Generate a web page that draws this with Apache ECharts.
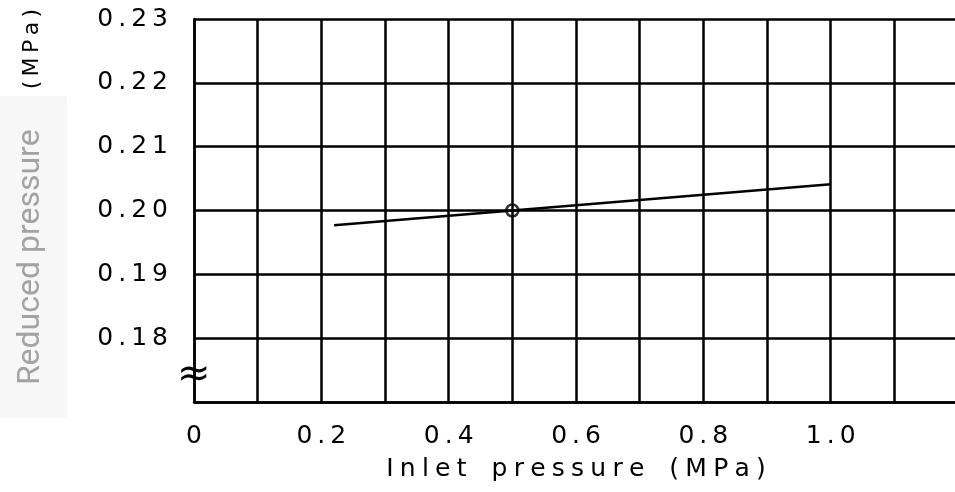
<!DOCTYPE html>
<html><head><meta charset="utf-8">
<script src="https://cdn.jsdelivr.net/npm/echarts@6/dist/echarts.min.js"></script>
<style>html,body{margin:0;padding:0;background:#fff}#c{width:955px;height:492px}</style>
</head><body><div id="c"></div>
<script>
// Data
const lineX = [0.22, 0.5, 1.0];
const lineY = [0.1977, 0.2000, 0.2041];
const markX = [0.5];
const markY = [0.2000];
const xTickLabels = {0:'0', 0.2:'0.2', 0.4:'0.4', 0.6:'0.6', 0.8:'0.8', 1.0:'1.0'};
const yTickLabels = {0.18:'0.18', 0.19:'0.19', 0.20:'0.20', 0.21:'0.21', 0.22:'0.22', 0.23:'0.23'};
const xTitle = 'Inlet pressure (MPa)';
const yTitleGray = 'Reduced pressure';
const yTitleUnit = '(MPa)';

const spaced = (s, sp) => s.split(' ').map(w => w.split('').join(sp || '\u2009')).join('\u2003');
const techFont = 'DejaVu Sans';
const lookup = (map, v) => {
  for (const k in map) { if (Math.abs(parseFloat(k) - v) < 1e-6) return spaced(map[k]); }
  return '';
};

const chart = echarts.init(document.getElementById('c'), null, {renderer:'canvas'});
chart.setOption({
  backgroundColor:'#fff',
  animation:false,
  grid:{left:194, top:19, width:764, height:383, containLabel:false, outerBoundsMode:'none'},
  xAxis:{
    type:'value', min:0, max:1.2, interval:0.1,
    axisLine:{show:true, onZero:false, lineStyle:{color:'#000', width:2.5}},
    axisTick:{show:false},
    splitLine:{show:true, lineStyle:{color:'#000', width:2.5}},
    axisLabel:{margin:22, color:'#000', fontFamily:techFont, fontSize:25,
      formatter:v => lookup(xTickLabels, v)},
    name:spaced(xTitle, '\u2005'),
    nameLocation:'middle', nameGap:55,
    nameTextStyle:{color:'#000', fontFamily:techFont, fontSize:25}
  },
  yAxis:{
    type:'value', min:0.17, max:0.23, interval:0.01,
    axisLine:{show:true, lineStyle:{color:'#000', width:2.5}},
    axisTick:{show:false},
    splitLine:{show:true, lineStyle:{color:'#000', width:2.5}},
    axisLabel:{margin:26, color:'#000', fontFamily:techFont, fontSize:25,
      formatter:v => lookup(yTickLabels, v)},
    name:'{g|' + yTitleGray + '}{u|' + spaced(yTitleUnit) + '}',
    nameLocation:'middle', nameGap:127, nameRotate:90,
    nameTextStyle:{
      padding:[0,6,0,0],
      rich:{
        g:{color:'#a3a3a3', fontFamily:'Roboto', fontSize:32, backgroundColor:'#f7f7f7', padding:[17,33,20,33]},
        u:{color:'#000', fontFamily:techFont, fontSize:22, padding:[0,0,0,7]}
      }
    }
  },
  graphic:[{
    type:'text', left:177, top:356, z:10,
    style:{text:'≈', fontSize:40, fontFamily:'DejaVu Sans', fill:'#000'}
  }],
  series:[{
    type:'line', data:lineX.map((x,i)=>[x,lineY[i]]), showSymbol:false, symbol:'none',
    lineStyle:{color:'#000', width:2.5}, z:3
  },{
    type:'scatter', data:markX.map((x,i)=>[x,markY[i]]), symbol:'circle', symbolSize:12,
    itemStyle:{color:'rgba(0,0,0,0)', borderColor:'#000', borderWidth:2.5}, z:4
  }]
});
</script></body></html>
